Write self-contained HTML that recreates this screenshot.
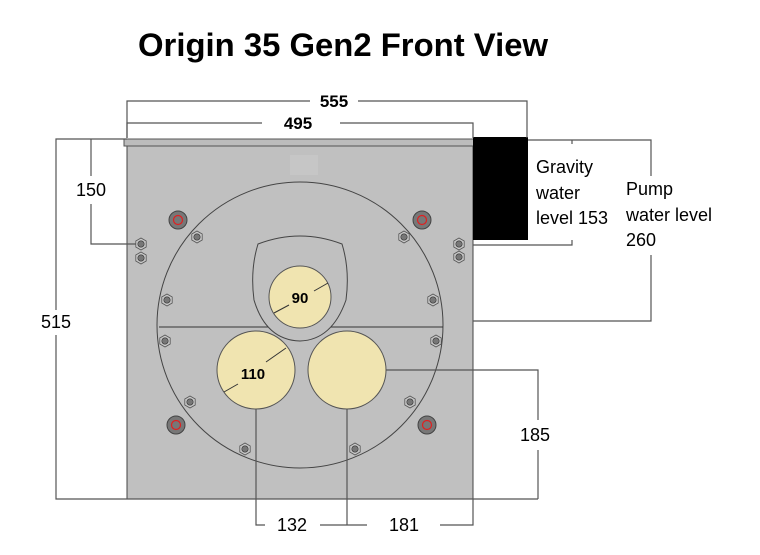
<!DOCTYPE html>
<html><head><meta charset="utf-8"><style>
body{margin:0;background:#fff;width:760px;height:550px;overflow:hidden;font-family:"Liberation Sans",sans-serif}
</style></head><body>
<svg width="760" height="550" xmlns="http://www.w3.org/2000/svg" font-family="Liberation Sans, sans-serif">
<defs>
<g id="hx"><polygon points="0,-6 5.2,-3 5.2,3 0,6 -5.2,3 -5.2,-3" fill="#c8c8c8" stroke="#555" stroke-width="0.8"/><circle r="3.2" fill="#777" stroke="#333" stroke-width="0.6"/></g>
<g id="rb"><circle r="9" fill="#777" stroke="#444"/><circle r="4.5" fill="none" stroke="#e02020" stroke-width="1.2"/></g>
</defs>
<text x="343" y="56" text-anchor="middle" font-size="32" font-weight="bold" fill="#000" textLength="410" lengthAdjust="spacingAndGlyphs">Origin 35 Gen2 Front View</text>
<rect x="127" y="145" width="346" height="354" fill="#c0c0c0" stroke="#444" stroke-width="1"/>
<rect x="290" y="155" width="28" height="20" fill="#c6c6c6"/>
<rect x="124" y="139" width="350" height="7" fill="#bcbcbc" stroke="#555" stroke-width="1"/>
<rect x="473" y="137" width="55" height="103" fill="#000"/>
<circle cx="300" cy="325" r="143" fill="none" stroke="#444" stroke-width="1"/>
<line x1="159" y1="327" x2="443" y2="327" stroke="#333" stroke-width="1"/>
<path d="M258,244 Q300,228 342,244 Q350,270 346,300 Q332,340 300,341 Q266,340 254,300 Q250,270 258,244 Z" fill="#c0c0c0" stroke="#444" stroke-width="1"/>
<circle cx="300" cy="297" r="31" fill="#f0e4b0" stroke="#555"/>
<circle cx="256" cy="370" r="39" fill="#f0e4b0" stroke="#555"/>
<circle cx="347" cy="370" r="39" fill="#f0e4b0" stroke="#555"/>
<g fill="none" stroke="#555" stroke-width="1.2">
<polyline points="127,138 127,101 310,101"/><polyline points="358,101 527,101 527,138"/>
<polyline points="127,138 127,123 262,123"/><polyline points="340,123 473,123 473,138"/>
<polyline points="127,139 56,139 56,310"/><polyline points="56,335 56,499 538,499"/>
<polyline points="91,139 91,176"/><polyline points="91,204 91,244 140,244"/>
<polyline points="528,140 651,140 651,176"/><line x1="572" y1="140" x2="572" y2="144"/>
<polyline points="473,245 572,245 572,240"/>
<polyline points="651,255 651,321 473,321"/>
<polyline points="386,370 538,370 538,420"/><line x1="538" y1="450" x2="538" y2="499"/>
<polyline points="256,409 256,525 265,525"/><polyline points="320,525 347,525 367,525"/><line x1="347" y1="409" x2="347" y2="525"/>
<polyline points="440,525 473,525 473,499"/>
</g>
<g stroke="#333" stroke-width="1">
<line x1="274" y1="313" x2="289" y2="305"/><line x1="314" y1="291" x2="328" y2="283"/>
<line x1="224" y1="392" x2="238" y2="384"/><line x1="266" y1="362" x2="286" y2="348"/>
</g>
<text x="300" y="303" text-anchor="middle" font-size="15" font-weight="bold">90</text>
<text x="253" y="379" text-anchor="middle" font-size="15" font-weight="bold">110</text>
<use href="#rb" x="178" y="220"/><use href="#rb" x="422" y="220"/><use href="#rb" x="176" y="425"/><use href="#rb" x="427" y="425"/>
<use href="#hx" x="197" y="237"/><use href="#hx" x="404" y="237"/><use href="#hx" x="141" y="244"/><use href="#hx" x="141" y="258"/>
<use href="#hx" x="459" y="244"/><use href="#hx" x="459" y="257"/><use href="#hx" x="167" y="300"/><use href="#hx" x="433" y="300"/>
<use href="#hx" x="165" y="341"/><use href="#hx" x="436" y="341"/><use href="#hx" x="190" y="402"/><use href="#hx" x="410" y="402"/>
<use href="#hx" x="245" y="449"/><use href="#hx" x="355" y="449"/>
<g font-size="18" fill="#000">
<text x="334" y="107" text-anchor="middle" font-weight="bold" font-size="17">555</text>
<text x="298" y="129" text-anchor="middle" font-weight="bold" font-size="17">495</text>
<text x="91" y="196" text-anchor="middle">150</text>
<text x="56" y="328" text-anchor="middle">515</text>
<text x="536" y="173">Gravity</text><text x="536" y="199">water</text><text x="536" y="224">level 153</text>
<text x="626" y="195">Pump</text><text x="626" y="221">water level</text><text x="626" y="246">260</text>
<text x="535" y="441" text-anchor="middle">185</text>
<text x="292" y="531" text-anchor="middle">132</text>
<text x="404" y="531" text-anchor="middle">181</text>
</g>
</svg>
</body></html>
